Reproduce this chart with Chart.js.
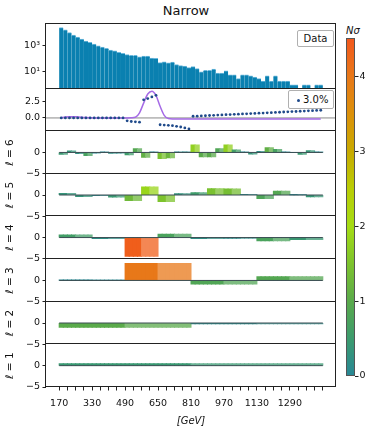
<!DOCTYPE html>
<html><head><meta charset="utf-8">
<script src="https://cdn.jsdelivr.net/npm/chart.js@4.4.0/dist/chart.umd.min.js"></script>
<style>
html,body{margin:0;padding:0;background:#fff;}
#fig{position:relative;width:372px;height:432px;overflow:hidden;font-family:"DejaVu Sans",sans-serif;color:#111;}
canvas{position:absolute;}
.txt{position:absolute;white-space:nowrap;}
.leg{position:absolute;border:1px solid #b0b0b0;border-radius:2px;background:rgba(255,255,255,0.92);box-sizing:border-box;font-size:10px;}
</style></head>
<body><div id="fig">
<div class="txt" style="left:0;width:372px;top:3px;line-height:16px;text-align:center;font-size:13px;">Narrow</div>
<div class="leg" style="left:297px;top:30px;width:37px;height:17px;line-height:15px;text-align:center;">Data</div>
<div class="leg" style="left:288px;top:90px;width:46px;height:19px;">
  <span style="position:absolute;left:8px;top:8px;width:3px;height:3px;border-radius:50%;background:#1f4a8a;"></span>
  <span style="position:absolute;left:14px;top:2px;line-height:14px;">3.0%</span>
</div>
<div class="txt" style="left:346px;top:24px;line-height:14px;font-size:10px;font-style:italic;">Nσ</div>
</div>
<script>
// ---------------- data ----------------
const tickLabels = ['170','330','490','650','810','970','1130','1290'];
const tickBins   = [0, 8, 16, 24, 32, 40, 48, 56];

const counts = [24500,16200,10200,6450,4570,3240,2290,1820,1350,1000,
  794,631,468,398,316,263,209,186,182,138,
  158,158,112,107,51,59,49,55,36,30,
  28,21,25,18,10,13,13,16,8,8,
  12,6,6,3,6,6,5,4,3,2,
  5,2,5,2,2,2,1,1,null,1,
  1,null,1,1];

const ratio3pct = [0,0,0,0,0,0,0,0,0,0,0,0,0,0,0,0,
  -0.45,-0.55,-0.6,-0.65,
  2.8,3.0,3.25,3.5,
  -1.05,-1.1,-1.15,-1.2,-1.3,-1.4,-1.55,-1.7,
  0.26,0.28,0.32,0.34,0.38,0.40,0.44,0.46,0.50,0.52,0.56,0.58,0.62,0.64,0.68,0.70,
  0.74,0.76,0.80,0.82,0.86,0.88,0.92,0.94,0.98,1.00,1.04,1.06,1.10,1.12,1.16,1.19];

const signalFit = [0.05,0.15,0.2,0.2,0.15,0.1,0.05,0.02,0,0,0,0,0,0,0,0,
  0,0.02,0.1,0.8,2.3,3.7,4.15,3.5,1.8,0.4,-0.1,-0.15,-0.15,-0.15,-0.15,-0.15,
  -0.15,-0.15,-0.15,-0.15,-0.15,-0.15,-0.15,-0.15,-0.15,-0.15,-0.15,-0.15,-0.15,-0.15,-0.15,-0.15,
  -0.15,-0.15,-0.15,-0.15,-0.15,-0.15,-0.15,-0.15,-0.15,-0.15,-0.15,-0.15,-0.15,-0.15,-0.15,-0.15];

const waveL1 = [0.45];
const waveL2 = [-1.0,-0.15];
const waveL3 = [0.05,4.0,-0.85,0.9];
const waveL4 = [0.6,-0.2,-4.4,0.75,-0.2,-0.15,-0.75,-0.45];
const waveL5 = [0.35,-0.35,-0.1,-0.45,-1.3,1.85,-1.5,0.3,0.55,1.45,1.4,0.1,-0.8,0.9,0.05,-0.4];
const waveL6 = [-0.45,0.35,-0.25,-0.7,-0.05,0.02,-0.2,-0.15,-0.55,0.9,-1.1,0.02,-1.45,-1.25,0.05,0.1,
  1.75,-1.0,-1.0,0.85,1.75,0.6,0.02,-0.35,0.2,1.1,0.7,0.02,0.0,-0.45,0.4,0.02];
const levelNames = ['ℓ = 6','ℓ = 5','ℓ = 4','ℓ = 3','ℓ = 2','ℓ = 1'];

// colormap stops for N sigma
const cmapVals = [0, 0.5, 1, 1.5, 2, 2.5, 3, 3.5, 4, 4.5];
const cmapRGB = [[40,135,150],[60,155,110],[90,170,75],[125,195,45],[165,220,20],
                 [185,205,5],[200,170,0],[220,145,10],[232,120,25],[242,88,28]];

// ---------------- helpers ----------------
Chart.defaults.font.family = "'DejaVu Sans', sans-serif";
Chart.defaults.font.size = 9.5;
Chart.defaults.color = '#111';
const NB = 64, X_MIN = -3.2, X_MAX = 67.2;
const PLOT_L = 46, PLOT_R = 336, W = 372;
const fig = document.getElementById('fig');

const framePlugin = {
  id: 'frame',
  defaults: { color: '#222' },
  afterDraw(chart, args, opts) {
    const a = chart.chartArea; const ctx = chart.ctx;
    ctx.save(); ctx.strokeStyle = opts.color; ctx.lineWidth = 1;
    const l = Math.round(a.left) - 0.5, t = Math.round(a.top) - 0.5;
    const r = Math.round(a.right) - 0.5, b = Math.round(a.bottom) - 0.5;
    ctx.strokeRect(l, t, r - l, b - t); ctx.restore();
  }
};
Chart.register(framePlugin);

// colour for |value|; 'light' blends it towards white (opaque, no seams)
function cmap(v, light) {
  v = Math.max(0, Math.min(4.5, v));
  let i = 0; while (i < cmapVals.length - 2 && v > cmapVals[i + 1]) i++;
  const f = (v - cmapVals[i]) / (cmapVals[i + 1] - cmapVals[i]);
  let c = cmapRGB[i].map((x, k) => x + f * (cmapRGB[i + 1][k] - x));
  if (light) c = c.map(x => x * 0.75 + 255 * 0.25);
  c = c.map(Math.round);
  return `rgb(${c[0]},${c[1]},${c[2]})`;
}

function addCanvas(left, top, w, h) {
  const c = document.createElement('canvas');
  c.width = w; c.height = h; c.style.left = left + 'px'; c.style.top = top + 'px';
  c.style.width = w + 'px'; c.style.height = h + 'px';
  fig.appendChild(c); return c;
}

const xTickPos = []; for (let v = 0; v <= NB; v += 2) xTickPos.push(v);

function xScale(visible) {
  const s = {
    type: 'linear', min: X_MIN, max: X_MAX, offset: false, display: visible,
    afterBuildTicks: sc => { sc.ticks = xTickPos.map(v => ({ value: v })); },
    ticks: { autoSkip: false, maxRotation: 0, minRotation: 0, padding: 7.5, color: '#111',
      callback: v => { const k = tickBins.indexOf(v); return k >= 0 ? tickLabels[k] : ''; } },
    grid: { offset: false, drawOnChartArea: false, drawTicks: true, tickLength: 3.5, tickColor: '#222' },
    border: { display: false }
  };
  if (visible) {
    s.title = { display: true, text: '[GeV]', font: { style: 'italic', size: 10 }, padding: { top: 0, bottom: 5 } };
    s.afterFit = sc => { sc.height = 45; };
  }
  return s;
}

function yBase(extra) {
  return Object.assign({
    position: 'left',
    ticks: { padding: 2.5, color: '#111' },
    grid: { drawOnChartArea: false, drawTicks: true, tickLength: 3.5, tickColor: '#222' },
    border: { display: false },
    afterFit: sc => { sc.width = PLOT_L; }
  }, extra);
}

function makeChart(top, bottom, config, bottomAxis) {
  const cTop = Math.floor(top) - 8;
  const padTop = top - cTop;
  const h = bottomAxis ? Math.ceil(bottom - cTop + 45) : Math.ceil(bottom - cTop + 8);
  const padBottom = bottomAxis ? (h - (bottom - cTop) - 45) : (h - (bottom - cTop));
  const cv = addCanvas(0, cTop, W, h);
  config.options = Object.assign({
    responsive: false, animation: false, devicePixelRatio: 1,
    layout: { padding: { left: 0, right: W - PLOT_R, top: padTop, bottom: padBottom } },
    plugins: { legend: { display: false }, tooltip: { enabled: false } }
  }, config.options);
  return new Chart(cv, config);
}

// ---------------- top histogram ----------------
makeChart(24, 89, {
  type: 'bar',
  data: { datasets: [{
    data: counts.map((c, i) => ({ x: i + 0.5, y: c })),
    backgroundColor: '#0a80b0', borderColor: '#6cb8dc',
    borderWidth: { top: 1, left: 0, right: 0, bottom: 0 }, borderSkipped: false,
    barPercentage: 1, categoryPercentage: 1, inflateAmount: 0.4
  }] },
  options: { scales: {
    x: xScale(false),
    y: yBase({ type: 'logarithmic', min: Math.pow(10, -0.29), max: Math.pow(10, 4.65),
      afterBuildTicks: sc => { sc.ticks = [{ value: 10 }, { value: 1000 }]; },
      ticks: { padding: 2.5, color: '#111', callback: v => v === 10 ? '10¹' : (v === 1000 ? '10³' : '') } })
  } }
});

// ---------------- ratio panel ----------------
makeChart(89, 131, {
  type: 'line',
  data: { datasets: [
    { data: ratio3pct.map((v, i) => ({ x: i + 0.5, y: v })), showLine: false,
      pointRadius: 1.4, pointBackgroundColor: '#1f4a8a', pointBorderWidth: 0, order: 0 },
    { data: signalFit.map((v, i) => ({ x: i + 0.5, y: v })), borderColor: '#a56ae6', borderWidth: 1.5,
      pointRadius: 0, cubicInterpolationMode: 'monotone', order: 1 },
    { data: [{ x: X_MIN, y: 0 }, { x: X_MAX, y: 0 }], borderColor: '#8a8a8a', borderWidth: 1, pointRadius: 0, order: 2 }
  ] },
  options: { scales: {
    x: xScale(false),
    y: yBase({ type: 'linear', min: -1.99, max: 4.45,
      afterBuildTicks: sc => { sc.ticks = [{ value: 0 }, { value: 2.5 }]; },
      ticks: { padding: 2.5, color: '#111', callback: v => v.toFixed(1) } })
  } }
});

// ---------------- wavelet panels ----------------
const levels = [waveL6, waveL5, waveL4, waveL3, waveL2, waveL1];
const panelTops = [131, 173.7, 216.3, 259, 301.7, 344.3, 387];
levels.forEach((coefs, li) => {
  const span = NB / coefs.length;
  const pts = [], cols = [];
  coefs.forEach((v, k) => {
    for (let j = 0; j < span; j++) {
      pts.push({ x: k * span + j + 0.5, y: v });
      cols.push(cmap(Math.abs(v), j >= span / 2));
    }
  });
  const isBottom = li === levels.length - 1;
  makeChart(panelTops[li], panelTops[li + 1], {
    type: 'bar',
    data: { datasets: [
      { type: 'line', data: [{ x: 0, y: 0 }, { x: NB, y: 0 }], borderColor: '#3a4d52', borderWidth: 1, pointRadius: 0, order: 0 },
      { data: pts, backgroundColor: cols, borderWidth: 0, barPercentage: 1, categoryPercentage: 1, inflateAmount: 0.5, order: 1 }
    ] },
    options: { scales: {
      x: xScale(isBottom),
      y: yBase({ type: 'linear', min: -5, max: 5,
        afterBuildTicks: sc => { sc.ticks = [{ value: -5 }, { value: 0 }]; },
        ticks: { padding: 2.5, color: '#111', callback: v => v < 0 ? '−' + Math.abs(v) : String(v) },
        title: { display: true, text: levelNames[li], color: '#111', font: { size: 10.5 }, padding: { top: 4, bottom: 0 } } })
    } }
  }, isBottom);
});

// ---------------- colorbar ----------------
(function () {
  const cv = addCanvas(332, 31, 40, 353);
  new Chart(cv, {
    type: 'bar',
    data: { labels: ['Nσ'], datasets: [{
      data: [4.5], borderWidth: 0, barPercentage: 1, categoryPercentage: 1,
      backgroundColor: ctx => {
        const a = ctx.chart.chartArea; if (!a) return '#888';
        const g = ctx.chart.ctx.createLinearGradient(0, a.bottom, 0, a.top);
        cmapVals.forEach(v => g.addColorStop(v / 4.5, cmap(v, false)));
        return g;
      }
    }] },
    options: {
      responsive: false, animation: false, devicePixelRatio: 1,
      layout: { padding: { left: 15, right: 0, top: 8, bottom: 8 } },
      plugins: { legend: { display: false }, tooltip: { enabled: false }, frame: { color: '#555' } },
      scales: {
        x: { display: false },
        y: { position: 'right', min: 0, max: 4.5,
          afterBuildTicks: sc => { sc.ticks = [0, 1, 2, 3, 4].map(v => ({ value: v })); },
          ticks: { padding: 1, color: '#111', callback: v => String(v) },
          grid: { drawOnChartArea: false, tickLength: 3.5, tickColor: '#222' },
          border: { display: false },
          afterFit: sc => { sc.width = 17; } }
      }
    }
  });
})();
</script>
</body></html>
